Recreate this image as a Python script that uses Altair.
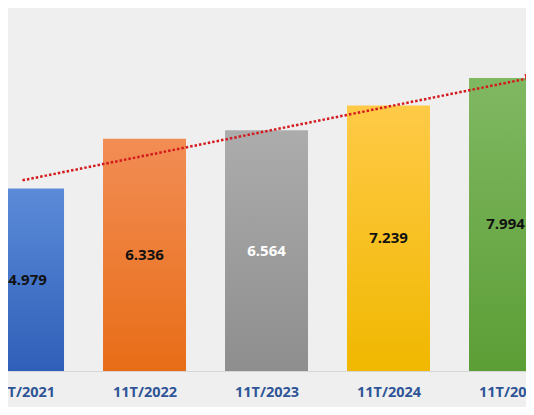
import altair as alt
import pandas as pd

categories = ["11T/2021", "11T/2022", "11T/2023", "11T/2024", "11T/2025"]
values = [4.979, 6.336, 6.564, 7.239, 7.994]
label_colors = ["#111111", "#111111", "#ffffff", "#111111", "#111111"]
grad_top = ["#5b8bd8", "#f28d55", "#acacac", "#ffca47", "#80b862"]
grad_bottom = ["#2f5fb8", "#e86d17", "#8e8e8e", "#f0b800", "#5c9e36"]
label_nudge = [5, 0, 0, 0, -5]
trend_x = [0.0, 4.16]
trend_y = [5.2, 7.99]

df = pd.DataFrame({"i": list(range(len(categories))), "cat": categories, "value": values,
                   "lc": label_colors})
df["half"] = df["value"] / 2
ticks = pd.DataFrame({"t": [i + 0.5 for i in range(-1, len(categories))]})
trend = pd.DataFrame({"x": trend_x, "y": trend_y})

xdom = [-0.119, 4.127]
xs = alt.Scale(domain=xdom, nice=False, zero=False, padding=0)
ys = alt.Scale(domain=[0, 9.9], nice=False, padding=0)

label_expr = "[" + ",".join("'%s'" % c for c in categories) + "][datum.value]"

base = alt.Chart(df)
layers = []
text_layers = []
for k in range(len(categories)):
    sub = base.transform_filter(alt.datum.i == k)
    layers.append(
        sub.mark_bar(
            size=83, clip=True,
            color=alt.Gradient(gradient="linear", x1=0, x2=0, y1=0, y2=1,
                               stops=[alt.GradientStop(color=grad_top[k], offset=0),
                                      alt.GradientStop(color=grad_bottom[k], offset=1)])
        ).encode(
            x=alt.X("i:Q", scale=xs,
                    axis=alt.Axis(values=list(range(len(categories))), labelExpr=label_expr,
                                  title=None, ticks=False, grid=False, domain=True,
                                  domainColor="#d6d6d6", labelFont="Open Sans",
                                  labelFontWeight="bold", labelFontSize=14.5,
                                  labelColor="#2f5597", labelPadding=14,
                                  labelOverlap=False, labelBound=False, labelFlush=False)),
            y=alt.Y("value:Q", scale=ys, axis=None),
        )
    )
    text_layers.append(
        sub.mark_text(font="Open Sans", fontWeight="bold", fontSize=15, clip=True,
                      dx=label_nudge[k], color=label_colors[k]).encode(
            x=alt.X("i:Q", scale=xs),
            y=alt.Y("half:Q", scale=ys),
            text=alt.Text("value:Q", format=".3f"),
        )
    )

tick_rules = alt.Chart(ticks).mark_rule(color="#d6d6d6", strokeWidth=1, clip=True).encode(
    x=alt.X("t:Q", scale=xs),
    y=alt.value(363),
    y2=alt.value(368),
)

line = alt.Chart(trend).mark_line(color="#d41a1f", strokeWidth=2.5, strokeDash=[2.5, 2],
                                  clip=True).encode(
    x=alt.X("x:Q", scale=xs),
    y=alt.Y("y:Q", scale=ys),
)

head = alt.Chart(trend.iloc[[1]]).mark_point(shape="triangle-right", filled=True, size=110,
                                             color="#e0201b", angle=348, opacity=1,
                                             clip=True).encode(
    x=alt.X("x:Q", scale=xs),
    y=alt.Y("y:Q", scale=ys),
)

chart = alt.layer(*layers, tick_rules, *text_layers, line, head).properties(
    width=518, height=363,
    autosize=alt.AutoSizeParams(type="none"),
    padding={"left": 0, "top": 0, "right": 0, "bottom": 36},
    background="#efefef",
).configure_view(stroke=None, fill="#efefef")

chart.save("out.html", embed_options={"renderer": "svg", "actions": False})
